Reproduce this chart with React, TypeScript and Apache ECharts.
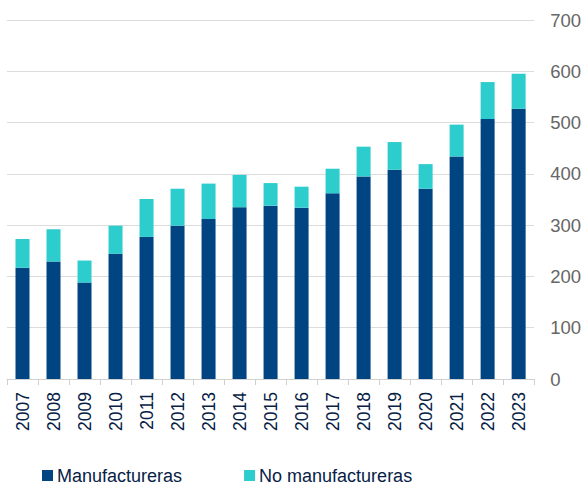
import React, { useEffect, useRef } from "react";
import * as echarts from "echarts";

const years = ["2007","2008","2009","2010","2011","2012","2013","2014","2015","2016","2017","2018","2019","2020","2021","2022","2023"];
const manufactureras = [217, 229, 188, 244, 277, 299, 312, 335, 338, 334, 362, 395, 408, 371, 434, 507, 527];
const noManufactureras = [56, 63, 43, 55, 74, 72, 69, 63, 44, 41, 48, 58, 54, 48, 62, 72, 68];
const yTicks = { min: 0, max: 700, interval: 100 };

export default function App() {
  const ref = useRef<HTMLDivElement>(null);
  useEffect(() => {
    if (!ref.current) return;
    const chart = echarts.init(ref.current, undefined, { renderer: "svg" });
    chart.setOption({
      animation: false,
      textStyle: { fontFamily: "Liberation Sans, Arial, sans-serif" },
      grid: { left: 7, right: 49, top: 20, bottom: 106, containLabel: false },
      legend: {
        left: 37,
        top: 461,
        icon: "rect",
        itemWidth: 11,
        itemHeight: 11,
        itemGap: 62,
        textStyle: { fontSize: 18, lineHeight: 19, color: "#072146", padding: [0, 0, 0, -1] },
        data: ["Manufactureras", "No manufactureras"],
      },
      xAxis: {
        type: "category",
        data: years,
        axisLine: { lineStyle: { color: "#d0d0d0", width: 1 } },
        axisTick: { show: true, length: 6, lineStyle: { color: "#d0d0d0" } },
        axisLabel: { rotate: 90, fontSize: 17.5, color: "#072146", margin: 13 },
      },
      yAxis: {
        type: "value",
        position: "right",
        min: yTicks.min,
        max: yTicks.max,
        interval: yTicks.interval,
        axisLine: { show: false },
        axisTick: { show: false },
        axisLabel: { fontSize: 18.5, color: "#666666", margin: 16 },
        splitLine: { lineStyle: { color: "#dcdcdc", width: 1 } },
      },
      series: [
        {
          name: "Manufactureras",
          type: "bar",
          stack: "total",
          barWidth: 14,
          itemStyle: { color: "#004481" },
          data: manufactureras,
        },
        {
          name: "No manufactureras",
          type: "bar",
          stack: "total",
          barWidth: 14,
          itemStyle: { color: "#2DCCCD" },
          data: noManufactureras,
        },
      ],
    });
    return () => chart.dispose();
  }, []);
  return <div ref={ref} style={{ width: 584, height: 485, position: "absolute", left: 0, top: 0 }} />;
}
